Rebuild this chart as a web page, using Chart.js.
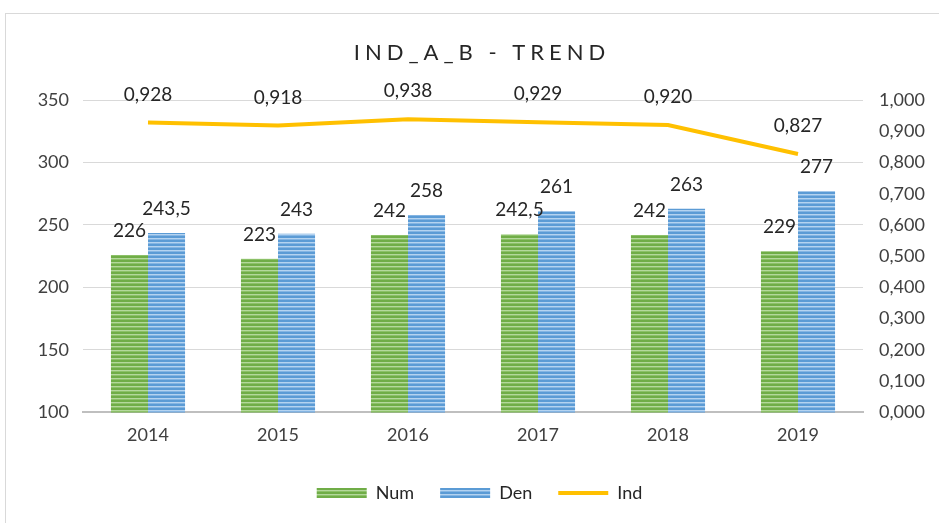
<!DOCTYPE html>
<html>
<head>
<meta charset="utf-8">
<script src="https://cdn.jsdelivr.net/npm/chart.js@4.4.1/dist/chart.umd.min.js"></script>
<style>
    html, body { margin: 0; padding: 0; background: #fff; }
    #wrap { position: relative; width: 939px; height: 523px; }
    #frame {
        position: absolute; left: 5px; top: 13px; width: 950px; height: 520px;
        border: 1px solid #d9d9d9; box-sizing: border-box;
    }
    canvas { position: absolute; left: 0; top: 0; }
</style>
</head>
<body>
<div id="wrap">
    <div id="frame"></div>
    <canvas id="trend-chart" width="939" height="523"></canvas>
</div>
<script>
// data
const years = ['2014', '2015', '2016', '2017', '2018', '2019'];
const numValues = [226, 223, 242, 242.5, 242, 229];
const denValues = [243.5, 243, 258, 261, 263, 277];
const indValues = [0.928, 0.918, 0.938, 0.929, 0.920, 0.827];
const chartTitle = 'IND_A_B - TREND';

// striped fill like the excel bars
function makeStripes(base, light, mid) {
    const c = document.createElement('canvas');
    c.width = 4;
    c.height = 4;
    const g = c.getContext('2d');
    g.fillStyle = base;
    g.fillRect(0, 0, 4, 4);
    g.fillStyle = light;
    g.fillRect(0, 2, 4, 1);
    g.fillStyle = mid;
    g.fillRect(0, 3, 4, 1);
    return g.createPattern(c, 'repeat');
}

const greenFill = makeStripes('#70ad47', '#b4d89c', '#8cc168');
const blueFill = makeStripes('#5b9bd5', '#b4d3f0', '#84b5e3');

function commaNum(v, digits) {
    return v.toFixed(digits).replace('.', ',');
}

// title with letter spacing
const titlePlugin = {
    id: 'spacedTitle',
    afterDraw(chart) {
        const ctx = chart.ctx;
        ctx.save();
        ctx.font = '22px Lato';
        ctx.letterSpacing = '5px';
        ctx.fillStyle = '#262626';
        ctx.textAlign = 'center';
        ctx.textBaseline = 'middle';
        ctx.fillText(chartTitle, 482, 53);
        ctx.restore();
    }
};

// value labels above bars / points
const labelPlugin = {
    id: 'valueLabels',
    afterDatasetsDraw(chart) {
        const ctx = chart.ctx;
        ctx.save();
        ctx.font = '19px Lato';
        ctx.fillStyle = '#262626';
        ctx.textAlign = 'center';
        ctx.textBaseline = 'middle';
        chart.data.datasets.forEach((ds, i) => {
            const meta = chart.getDatasetMeta(i);
            meta.data.forEach((el, j) => {
                const v = ds.data[j];
                let txt;
                let dy;
                if (ds.type === 'line') {
                    txt = commaNum(v, 3);
                    dy = 28;
                } else {
                    txt = Number.isInteger(v) ? String(v) : commaNum(v, 1);
                    dy = 24;
                }
                ctx.fillText(txt, el.x, el.y - dy);
            });
        });
        ctx.restore();
    }
};

const ctx = document.getElementById('trend-chart').getContext('2d');
new Chart(ctx, {
    type: 'bar',
    data: {
        labels: years,
        datasets: [
            {
                label: 'Num',
                data: numValues,
                backgroundColor: greenFill,
                borderWidth: 0,
                yAxisID: 'y',
                pointStyle: 'rect',
                order: 2,
            },
            {
                label: 'Den',
                data: denValues,
                backgroundColor: blueFill,
                borderWidth: 0,
                yAxisID: 'y',
                pointStyle: 'rect',
                order: 2,
            },
            {
                type: 'line',
                label: 'Ind',
                data: indValues,
                borderColor: '#ffc000',
                backgroundColor: '#ffc000',
                borderWidth: 4,
                pointRadius: 0,
                tension: 0,
                yAxisID: 'y1',
                pointStyle: 'line',
                order: 1,
            },
        ],
    },
    options: {
        responsive: false,
        animation: false,
        maintainAspectRatio: false,
        categoryPercentage: 0.57,
        barPercentage: 1,
        layout: { padding: { top: 100, left: 20, right: 0, bottom: 11 } },
        plugins: {
            legend: {
                position: 'bottom',
                labels: {
                    usePointStyle: true,
                    pointStyleWidth: 50,
                    boxHeight: 10,
                    padding: 26,
                    color: '#262626',
                    font: { family: 'Lato', size: 18 },
                    sort: (a, b) => a.datasetIndex - b.datasetIndex,
                },
            },
            tooltip: { enabled: false },
        },
        scales: {
            x: {
                grid: { display: false, drawTicks: false },
                border: { color: '#bfbfbf', width: 2 },
                ticks: { color: '#404040', padding: 12, font: { family: 'Lato', size: 18 } },
            },
            y: {
                position: 'left',
                min: 100,
                max: 350,
                afterFit: (s) => { s.width = 63; },
                grid: { color: '#d9d9d9', drawTicks: false },
                border: { display: false },
                ticks: {
                    stepSize: 50,
                    padding: 14,
                    color: '#404040',
                    font: { family: 'Lato', size: 18 },
                },
            },
            y1: {
                position: 'right',
                min: 0,
                max: 1,
                afterFit: (s) => { s.width = 76; },
                grid: { display: false, drawTicks: false },
                border: { display: false },
                ticks: {
                    stepSize: 0.1,
                    padding: 16,
                    color: '#404040',
                    font: { family: 'Lato', size: 18 },
                    callback: (v) => commaNum(v, 3),
                },
            },
        },
    },
    plugins: [titlePlugin, labelPlugin],
});
</script>
</body>
</html>
